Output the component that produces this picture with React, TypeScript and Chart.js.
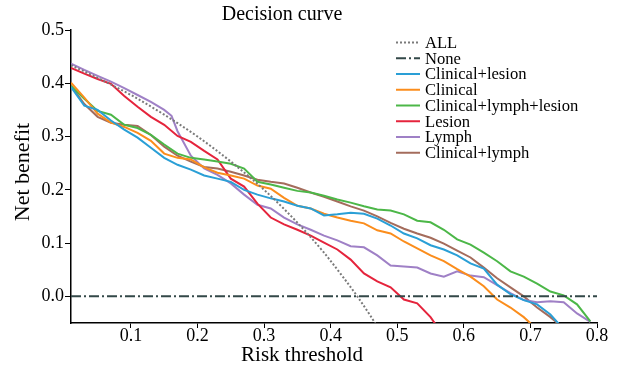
import React, { useEffect, useRef } from "react";
import { Chart, registerables } from "chart.js";

Chart.register(...registerables);

const serif = '"Liberation Serif", "Times New Roman", serif';

const titleText = "Decision curve";
const xTitle = "Risk threshold";
const yTitle = "Net benefit";

const xTicks = [0.1, 0.2, 0.3, 0.4, 0.5, 0.6, 0.7, 0.8];
const yTicks = [0.0, 0.1, 0.2, 0.3, 0.4, 0.5];

const thresholds = [
  0.01, 0.03, 0.05, 0.07, 0.09, 0.11, 0.13, 0.15, 0.17, 0.19,
  0.21, 0.23, 0.25, 0.27, 0.29, 0.31, 0.33, 0.35, 0.37, 0.39,
  0.41, 0.43, 0.45, 0.47, 0.49, 0.51, 0.53, 0.55, 0.57, 0.59,
  0.61, 0.63, 0.65, 0.67, 0.69, 0.71, 0.73, 0.75, 0.77, 0.79,
];

const lymphThresholds = [
  0.01, 0.03, 0.05, 0.07, 0.09, 0.11, 0.13, 0.15, 0.161, 0.17, 0.19,
  0.21, 0.23, 0.25, 0.27, 0.29, 0.31, 0.33, 0.35, 0.37, 0.39,
  0.41, 0.43, 0.45, 0.47, 0.49, 0.51, 0.53, 0.55, 0.57, 0.59,
  0.61, 0.63, 0.65, 0.67, 0.69, 0.71, 0.73, 0.75, 0.77, 0.79,
];

const allThresholds = [0.01, 0.05, 0.1, 0.15, 0.2, 0.25, 0.3, 0.33, 0.36, 0.39, 0.42, 0.44, 0.46, 0.47];
const allValues = [0.434, 0.41, 0.378, 0.341, 0.3, 0.253, 0.2, 0.164, 0.125, 0.082, 0.034, 0.0, -0.037, -0.057];

const noneThresholds = [0.01, 0.8];
const noneValues = [0, 0];

const clinicalLesion = [
  0.393, 0.358, 0.35, 0.33, 0.313, 0.298, 0.279, 0.26, 0.247, 0.238,
  0.227, 0.221, 0.215, 0.2, 0.191, 0.184, 0.178, 0.17, 0.165, 0.152,
  0.154, 0.157, 0.155, 0.146, 0.133, 0.118, 0.109, 0.096, 0.088, 0.077,
  0.062, 0.052, 0.022, 0.004, -0.007, -0.015, -0.034, -0.062, null, null,
];
const clinical = [
  0.401, 0.373, 0.343, 0.326, 0.318, 0.307, 0.292, 0.268, 0.26, 0.257,
  0.242, 0.232, 0.227, 0.221, 0.208, 0.202, 0.185, 0.17, 0.165, 0.155,
  0.148, 0.142, 0.137, 0.124, 0.118, 0.103, 0.09, 0.077, 0.066, 0.051,
  0.037, 0.019, -0.006, -0.021, -0.039, -0.062, null, null, null, null,
];
const clinicalLymphLesion = [
  0.395, 0.371, 0.348, 0.341, 0.322, 0.316, 0.303, 0.285, 0.268, 0.26,
  0.257, 0.253, 0.249, 0.24, 0.215, 0.21, 0.204, 0.198, 0.195, 0.189,
  0.182, 0.176, 0.169, 0.163, 0.161, 0.154, 0.142, 0.139, 0.125, 0.107,
  0.097, 0.082, 0.066, 0.047, 0.037, 0.024, 0.009, 0.002, -0.015, -0.047,
];
const lesion = [
  0.429, 0.418, 0.408, 0.399, 0.376, 0.356, 0.337, 0.322, 0.301, 0.29,
  0.273, 0.257, 0.221, 0.206, 0.174, 0.148, 0.135, 0.125, 0.114, 0.101,
  0.088, 0.069, 0.043, 0.028, 0.017, -0.006, -0.013, -0.039, -0.075, null,
  null, null, null, null, null, null, null, null, null, null,
];
const lymph = [
  0.437, 0.425, 0.414, 0.403, 0.391, 0.378, 0.365, 0.35, 0.339, 0.31, 0.264,
  0.24, 0.228, 0.212, 0.191, 0.172, 0.165, 0.148, 0.135, 0.125, 0.114,
  0.105, 0.094, 0.092, 0.077, 0.058, 0.056, 0.054, 0.043, 0.037, 0.047,
  0.039, 0.036, 0.021, 0.006, -0.007, -0.011, -0.009, -0.011, -0.032, -0.048,
];
const clinicalLymph = [
  0.395, 0.361, 0.337, 0.326, 0.322, 0.32, 0.303, 0.281, 0.264, 0.253,
  0.243, 0.24, 0.234, 0.227, 0.219, 0.215, 0.212, 0.204, 0.195, 0.187,
  0.178, 0.169, 0.161, 0.15, 0.138, 0.127, 0.118, 0.11, 0.099, 0.086,
  0.073, 0.054, 0.034, 0.017, 0.0, -0.021, -0.039, -0.06, null, null,
];

const toPoints = (xs: number[], ys: (number | null)[]) =>
  xs.map((x, i) => ({ x, y: ys[i] }));

const decorations = {
  id: "decorations",
  afterDraw(chart: any) {
    const { ctx } = chart;
    ctx.save();
    ctx.fillStyle = "#000";
    ctx.textAlign = "center";
    ctx.textBaseline = "middle";
    ctx.font = `20px ${serif}`;
    ctx.fillText(titleText, 282, 15);
    ctx.font = `21px ${serif}`;
    ctx.fillText(xTitle, 302, 355);
    ctx.save();
    ctx.translate(23, 172);
    ctx.rotate(-Math.PI / 2);
    ctx.font = `22px ${serif}`;
    ctx.fillText(yTitle, 0, 0);
    ctx.restore();

    // legend
    ctx.textAlign = "left";
    ctx.font = `16.6px ${serif}`;
    chart.data.datasets.forEach((ds: any, i: number) => {
      const y = 42.5 + i * 15.75;
      ctx.save();
      ctx.strokeStyle = ds.borderColor;
      ctx.lineWidth = ds.borderWidth;
      ctx.setLineDash(ds.borderDash || []);
      ctx.beginPath();
      ctx.moveTo(396, y);
      ctx.lineTo(420, y);
      ctx.stroke();
      ctx.restore();
      ctx.fillStyle = "#000";
      ctx.fillText(ds.label, 425, y + 1);
    });
    ctx.restore();
  },
};

export default function App() {
  const ref = useRef<HTMLCanvasElement | null>(null);
  useEffect(() => {
    document.body.style.margin = "0";
    const canvas = ref.current!;
    const line = (label: string, xs: number[], ys: (number | null)[], color: string, extra: any = {}) => ({
      label,
      data: toPoints(xs, ys),
      borderColor: color,
      backgroundColor: color,
      borderWidth: 2,
      pointRadius: 0,
      fill: false,
      tension: 0,
      spanGaps: false,
      ...extra,
    });
    const chart = new Chart(canvas, {
      type: "line",
      data: {
        datasets: [
          line("ALL", allThresholds, allValues, "#7a7a7a", { borderDash: [2, 2], cubicInterpolationMode: "monotone" }),
          line("None", noneThresholds, noneValues, "#334848", { borderDash: [10, 3, 2, 3] }),
          line("Clinical+lesion", thresholds, clinicalLesion, "#2a9fd6"),
          line("Clinical", thresholds, clinical, "#fb8d1c"),
          line("Clinical+lymph+lesion", thresholds, clinicalLymphLesion, "#4cb748"),
          line("Lesion", thresholds, lesion, "#e5243c"),
          line("Lymph", lymphThresholds, lymph, "#9f80c6"),
          line("Clinical+lymph", thresholds, clinicalLymph, "#a46c5c"),
        ],
      },
      options: {
        animation: false,
        responsive: false,
        devicePixelRatio: 1,
        layout: { padding: { left: 0, right: 23, top: 30, bottom: 0 } },
        plugins: { legend: { display: false }, title: { display: false }, tooltip: { enabled: false } },
        scales: {
          x: {
            type: "linear",
            min: 0.01,
            max: 0.8,
            afterBuildTicks: (s: any) => { s.ticks = xTicks.map((value) => ({ value })); },
            afterFit: (s: any) => { s.height = 51; },
            grid: { display: true, drawOnChartArea: false, drawTicks: true, tickLength: 5, tickColor: "#000", tickWidth: 1 },
            border: { display: true, color: "#000", width: 1.5 },
            ticks: {
              color: "#000",
              font: { family: serif, size: 18 },
              padding: -3,
              maxRotation: 0,
              callback: (v: any) => Number(v).toFixed(1),
            },
          },
          y: {
            type: "linear",
            min: -0.05,
            max: 0.5,
            afterBuildTicks: (s: any) => { s.ticks = yTicks.map((value) => ({ value })); },
            afterFit: (s: any) => { s.width = 71; },
            grid: { display: true, drawOnChartArea: false, drawTicks: true, tickLength: 6, tickColor: "#000", tickWidth: 1 },
            border: { display: true, color: "#000", width: 1.5 },
            ticks: {
              color: "#000",
              font: { family: serif, size: 18 },
              padding: 1,
              callback: (v: any) => Number(v).toFixed(1),
            },
          },
        },
      },
      plugins: [decorations],
    } as any);
    return () => chart.destroy();
  }, []);
  return (
    <div style={{ width: 620, height: 374, background: "#fff" }}>
      <canvas ref={ref} width={620} height={374} style={{ display: "block" }} />
    </div>
  );
}
